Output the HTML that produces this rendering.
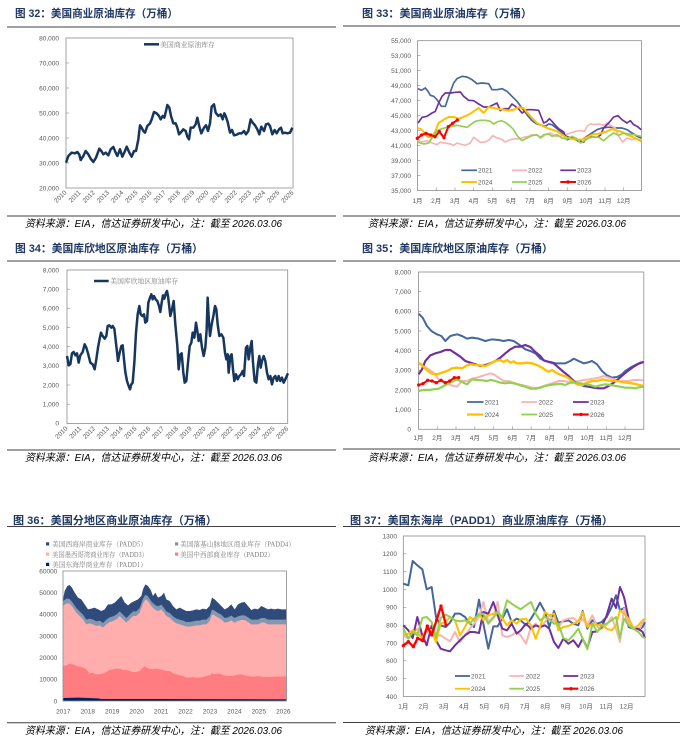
<!DOCTYPE html>
<html><head><meta charset="utf-8"><style>
html,body{margin:0;padding:0;background:#fff;}
svg{display:block;}
.t{font-family:"Liberation Sans","Noto Sans CJK SC",sans-serif;font-weight:bold;font-size:11px;fill:#1f3864;}
.ax{font-family:"Liberation Sans","Noto Sans CJK SC",sans-serif;font-size:6.5px;fill:#595959;}
.lg{font-family:"Liberation Serif","Noto Serif CJK SC",serif;font-size:6.8px;fill:#7f7f7f;}
.ly{font-family:"Liberation Sans",sans-serif;font-size:6.5px;fill:#595959;}
.ft{font-family:"Liberation Sans","Noto Sans CJK SC",sans-serif;font-style:italic;font-size:10.5px;fill:#000;}
</style></head><body>
<svg width="683" height="751" viewBox="0 0 683 751" xmlns="http://www.w3.org/2000/svg">
<rect width="683" height="751" fill="#fff"/>

<!-- ================= Chart 32 ================= -->
<text class="t" x="15" y="17" textLength="163" lengthAdjust="spacingAndGlyphs">图 32：美国商业原油库存（万桶）</text>
<line x1="7" y1="27" x2="336" y2="27" stroke="#404040" stroke-width="1"/>
<rect x="66" y="38" width="227" height="150" fill="none" stroke="#8c8c8c" stroke-width="0.8"/>
<g class="ax" text-anchor="end">
<text x="59" y="40.5">80,000</text><text x="59" y="65.5">70,000</text><text x="59" y="90.5">60,000</text>
<text x="59" y="115.5">50,000</text><text x="59" y="140.5">40,000</text><text x="59" y="165.5">30,000</text>
<text x="59" y="190.5">20,000</text>
</g>
<g stroke="#8c8c8c" stroke-width="0.6">
<line x1="66" y1="63" x2="69" y2="63"/><line x1="66" y1="88" x2="69" y2="88"/><line x1="66" y1="113" x2="69" y2="113"/><line x1="66" y1="138" x2="69" y2="138"/><line x1="66" y1="163" x2="69" y2="163"/>
</g>
<g class="ax" text-anchor="end" font-size="6.2">
<text transform="translate(67,193) rotate(-45)">2010</text>
<text transform="translate(81.2,193) rotate(-45)">2011</text>
<text transform="translate(95.4,193) rotate(-45)">2012</text>
<text transform="translate(109.6,193) rotate(-45)">2013</text>
<text transform="translate(123.8,193) rotate(-45)">2014</text>
<text transform="translate(138,193) rotate(-45)">2015</text>
<text transform="translate(152.1,193) rotate(-45)">2016</text>
<text transform="translate(166.3,193) rotate(-45)">2017</text>
<text transform="translate(180.5,193) rotate(-45)">2018</text>
<text transform="translate(194.7,193) rotate(-45)">2019</text>
<text transform="translate(208.9,193) rotate(-45)">2020</text>
<text transform="translate(223.1,193) rotate(-45)">2021</text>
<text transform="translate(237.3,193) rotate(-45)">2022</text>
<text transform="translate(251.5,193) rotate(-45)">2023</text>
<text transform="translate(265.7,193) rotate(-45)">2024</text>
<text transform="translate(279.9,193) rotate(-45)">2025</text>
<text transform="translate(294,193) rotate(-45)">2026</text>
</g>
<line x1="144" y1="44.3" x2="159" y2="44.3" stroke="#17365d" stroke-width="2.5"/>
<text class="lg" x="160" y="46.8" textLength="55" lengthAdjust="spacingAndGlyphs">美国商业原油库存</text>
<g transform="translate(60,36) scale(0.33333)">
<polyline fill="none" stroke="#17365d" stroke-width="7.5" stroke-linejoin="round" points="18,380 25,360 35,350 45,352 52,348 58,356 62,372 70,360 77,345 85,355 92,368 100,378 108,365 118,338 124,345 130,355 137,350 145,358 152,340 160,333 167,350 172,360 180,340 187,362 195,345 200,332 208,350 215,362 222,345 228,345 235,310 240,268 245,275 250,285 255,290 262,270 270,262 275,250 282,228 290,232 297,240 302,250 308,240 313,245 318,225 322,207 328,215 333,240 340,262 347,262 352,275 357,295 362,290 370,280 377,285 382,302 387,310 392,275 400,275 407,265 412,245 418,272 424,292 432,275 438,268 444,285 450,262 455,212 462,205 467,230 475,240 482,235 488,250 493,232 497,240 503,258 510,290 516,282 522,298 530,296 537,292 545,292 552,285 558,295 565,285 572,250 578,260 585,268 592,280 598,295 604,272 612,285 618,265 625,263 630,270 637,295 644,282 650,292 657,280 663,275 668,292 675,290 682,292 690,290 697,275"/>
</g>
<line x1="7" y1="216" x2="336" y2="216" stroke="#404040" stroke-width="1"/>
<text class="ft" x="25" y="227" textLength="257" lengthAdjust="spacingAndGlyphs">资料来源：EIA，信达证券研发中心，注：截至 2026.03.06</text>

<!-- ================= Chart 33 ================= -->
<text class="t" x="362" y="17" textLength="170" lengthAdjust="spacingAndGlyphs">图 33：美国商业原油库存（万桶）</text>
<line x1="343" y1="26" x2="680" y2="26" stroke="#404040" stroke-width="1"/>
<rect x="417.5" y="40.7" width="224" height="149.8" fill="none" stroke="#8c8c8c" stroke-width="0.8"/>
<g class="ax" text-anchor="end">
<text x="411" y="43">55,000</text><text x="411" y="58">53,000</text><text x="411" y="73">51,000</text>
<text x="411" y="88">49,000</text><text x="411" y="103">47,000</text><text x="411" y="118">45,000</text>
<text x="411" y="133">43,000</text><text x="411" y="148">41,000</text><text x="411" y="163">39,000</text>
<text x="411" y="178">37,000</text><text x="411" y="193">35,000</text>
</g>
<g stroke="#8c8c8c" stroke-width="0.6">
<line x1="417.5" y1="55.7" x2="420.5" y2="55.7"/><line x1="417.5" y1="70.7" x2="420.5" y2="70.7"/><line x1="417.5" y1="85.7" x2="420.5" y2="85.7"/><line x1="417.5" y1="100.7" x2="420.5" y2="100.7"/><line x1="417.5" y1="115.7" x2="420.5" y2="115.7"/><line x1="417.5" y1="130.7" x2="420.5" y2="130.7"/><line x1="417.5" y1="145.7" x2="420.5" y2="145.7"/><line x1="417.5" y1="160.7" x2="420.5" y2="160.7"/><line x1="417.5" y1="175.7" x2="420.5" y2="175.7"/>
<line x1="436.2" y1="190.5" x2="436.2" y2="187.5"/><line x1="455" y1="190.5" x2="455" y2="187.5"/><line x1="473.7" y1="190.5" x2="473.7" y2="187.5"/><line x1="492.4" y1="190.5" x2="492.4" y2="187.5"/><line x1="511.2" y1="190.5" x2="511.2" y2="187.5"/><line x1="530" y1="190.5" x2="530" y2="187.5"/><line x1="548.7" y1="190.5" x2="548.7" y2="187.5"/><line x1="567.5" y1="190.5" x2="567.5" y2="187.5"/><line x1="586.2" y1="190.5" x2="586.2" y2="187.5"/><line x1="605" y1="190.5" x2="605" y2="187.5"/><line x1="623.7" y1="190.5" x2="623.7" y2="187.5"/>
</g>
<g class="ax" text-anchor="middle">
<text x="417.5" y="203">1月</text><text x="436.2" y="203">2月</text><text x="455" y="203">3月</text><text x="473.7" y="203">4月</text>
<text x="492.4" y="203">5月</text><text x="511.2" y="203">6月</text><text x="530" y="203">7月</text><text x="548.7" y="203">8月</text>
<text x="567.5" y="203">9月</text><text x="586.2" y="203">10月</text><text x="605" y="203">11月</text><text x="623.7" y="203">12月</text>
</g>
<g transform="translate(412,38) scale(0.33333)" fill="none" stroke-width="5" stroke-linejoin="round">
<polyline stroke="#44679c" points="18,152 28,157 40,150 48,160 55,172 65,175 75,185 88,205 100,205 110,175 125,135 135,122 150,115 165,117 180,125 195,137 210,135 230,137 240,155 255,155 270,152 285,160 300,175 315,190 330,210 345,230 360,248 375,258 390,262 400,265 410,258 420,260 430,268 445,280 460,293 475,300 490,305 500,310 510,305 525,295 540,285 555,275 570,270 585,268 600,268 615,270 630,270 645,275 660,285 675,295 688,300"/>
<polyline stroke="#f8b4b4" points="18,307 30,312 45,308 60,315 75,320 85,313 100,315 115,318 125,322 135,315 145,318 160,322 175,315 185,298 195,305 205,313 220,312 232,305 242,293 255,300 265,302 280,312 295,305 310,302 320,303 335,298 350,295 360,290 375,292 390,298 400,290 415,285 430,295 445,295 460,290 475,285 490,280 505,278 518,280 525,265 535,258 548,260 560,258 575,262 585,255 595,262 610,270 620,295 632,312 645,300 660,305 675,303 688,305"/>
<polyline stroke="#7030a0" points="18,255 30,238 45,235 60,225 70,220 80,195 90,175 100,165 115,165 130,163 145,162 155,175 170,187 185,188 200,198 215,207 230,207 245,200 255,195 265,218 275,212 290,212 300,198 310,205 320,213 330,225 345,215 360,215 380,217 395,255 405,250 412,242 420,250 430,262 440,272 455,282 465,305 480,300 495,305 505,310 515,313 525,295 540,297 555,298 565,292 575,270 590,255 605,237 618,233 630,245 645,255 655,248 665,260 675,265 688,275"/>
<polyline stroke="#ffc000" stroke-width="6" points="18,270 30,275 40,290 50,297 60,295 70,280 80,255 95,245 110,237 125,237 140,242 155,237 170,230 185,220 200,210 215,225 230,207 245,210 260,213 275,215 290,218 305,215 320,208 335,210 345,223 360,240 375,255 390,263 405,270 420,275 435,280 450,290 465,300 480,303 495,305 510,305 525,298 540,290 555,288 570,285 585,280 600,273 615,278 630,282 645,290 660,296 675,303 688,310"/>
<polyline stroke="#92d050" points="18,313 35,318 50,315 60,300 75,278 90,272 105,268 120,265 135,262 150,265 165,268 178,258 190,250 205,247 220,247 235,250 245,258 255,252 268,248 280,253 295,265 305,275 315,292 330,308 345,300 360,293 375,290 385,300 395,290 410,288 420,295 435,290 450,300 465,303 480,295 495,302 505,315 515,310 530,300 545,297 560,298 575,308 590,295 605,285 620,292 635,285 650,288 665,290 688,295"/>
<polyline stroke="#ff0000" stroke-width="6" points="16,301 29,291 42,286 56,291 69,296 82,281 96,299 109,266 122,256 136,246"/>
<g fill="#ff0000" stroke="none"><circle cx="16" cy="301" r="5"/><circle cx="29" cy="291" r="5"/><circle cx="42" cy="286" r="5"/><circle cx="56" cy="291" r="5"/><circle cx="69" cy="296" r="5"/><circle cx="82" cy="281" r="5"/><circle cx="96" cy="299" r="5"/><circle cx="109" cy="266" r="5"/><circle cx="122" cy="256" r="5"/><circle cx="136" cy="246" r="5"/></g>
</g>
<g stroke-width="1.7">
<line x1="461.3" y1="170.3" x2="477" y2="170.3" stroke="#44679c"/>
<line x1="512" y1="170.3" x2="527" y2="170.3" stroke="#f8b4b4"/>
<line x1="560.3" y1="170.3" x2="576" y2="170.3" stroke="#7030a0"/>
<line x1="461.3" y1="182" x2="477" y2="182" stroke="#ffc000" stroke-width="2"/>
<line x1="512" y1="182" x2="527" y2="182" stroke="#92d050"/>
<line x1="560.3" y1="182" x2="576" y2="182" stroke="#ff0000" stroke-width="2"/>
</g>
<circle cx="568" cy="182" r="1.7" fill="#ff0000"/>
<g class="ly"><text x="478" y="172.6">2021</text><text x="528" y="172.6">2022</text><text x="577" y="172.6">2023</text>
<text x="478" y="184.3">2024</text><text x="528" y="184.3">2025</text><text x="577" y="184.3">2026</text></g>
<line x1="343" y1="216" x2="680" y2="216" stroke="#404040" stroke-width="1"/>
<text class="ft" x="368" y="227" textLength="258" lengthAdjust="spacingAndGlyphs">资料来源：EIA，信达证券研发中心，注：截至 2026.03.06</text>

<!-- ================= Chart 34 ================= -->
<text class="t" x="15" y="252" textLength="188" lengthAdjust="spacingAndGlyphs">图 34：美国库欣地区原油库存（万桶）</text>
<line x1="7" y1="261" x2="336" y2="261" stroke="#404040" stroke-width="1"/>
<rect x="67" y="270" width="220.7" height="153.4" fill="none" stroke="#8c8c8c" stroke-width="0.8"/>
<g class="ax" text-anchor="end">
<text x="59" y="272.3">8,000</text><text x="59" y="291.5">7,000</text><text x="59" y="310.6">6,000</text>
<text x="59" y="329.8">5,000</text><text x="59" y="349">4,000</text><text x="59" y="368.1">3,000</text>
<text x="59" y="387.3">2,000</text><text x="59" y="406.5">1,000</text><text x="59" y="425.7">0</text>
</g>
<g stroke="#8c8c8c" stroke-width="0.6">
<line x1="67" y1="289.2" x2="70" y2="289.2"/><line x1="67" y1="308.3" x2="70" y2="308.3"/><line x1="67" y1="327.5" x2="70" y2="327.5"/><line x1="67" y1="346.7" x2="70" y2="346.7"/><line x1="67" y1="365.8" x2="70" y2="365.8"/><line x1="67" y1="385" x2="70" y2="385"/><line x1="67" y1="404.2" x2="70" y2="404.2"/>
</g>
<g class="ax" text-anchor="end" font-size="5.8">
<text transform="translate(68,429) rotate(-45)">2010</text>
<text transform="translate(81.8,429) rotate(-45)">2011</text>
<text transform="translate(95.6,429) rotate(-45)">2012</text>
<text transform="translate(109.4,429) rotate(-45)">2013</text>
<text transform="translate(123.2,429) rotate(-45)">2014</text>
<text transform="translate(137,429) rotate(-45)">2015</text>
<text transform="translate(150.8,429) rotate(-45)">2016</text>
<text transform="translate(164.6,429) rotate(-45)">2017</text>
<text transform="translate(178.4,429) rotate(-45)">2018</text>
<text transform="translate(192.2,429) rotate(-45)">2019</text>
<text transform="translate(206,429) rotate(-45)">2020</text>
<text transform="translate(219.8,429) rotate(-45)">2021</text>
<text transform="translate(233.6,429) rotate(-45)">2022</text>
<text transform="translate(247.4,429) rotate(-45)">2023</text>
<text transform="translate(261.2,429) rotate(-45)">2024</text>
<text transform="translate(275,429) rotate(-45)">2025</text>
<text transform="translate(288.8,429) rotate(-45)">2026</text>
</g>
<line x1="94" y1="281" x2="108.7" y2="281" stroke="#17365d" stroke-width="2.5"/>
<text class="lg" x="110.3" y="283.5" textLength="68" lengthAdjust="spacingAndGlyphs">美国库欣地区原油库存</text>
<g transform="translate(62,266) scale(0.33333)">
<polyline fill="none" stroke="#17365d" stroke-width="7.5" stroke-linejoin="round" points="15,270 20,298 25,295 30,262 35,258 40,268 45,262 50,290 55,268 62,258 68,235 73,245 78,262 85,290 92,295 98,310 103,280 108,245 113,218 117,200 122,210 128,218 133,210 137,180 142,178 148,185 152,180 157,188 163,240 168,285 173,260 178,240 182,238 186,280 190,318 195,345 200,360 204,370 208,355 212,350 217,290 222,200 227,145 232,120 236,145 241,150 246,145 250,170 255,165 259,110 264,95 268,85 272,100 276,90 281,100 286,105 291,120 295,138 299,110 303,88 307,98 312,80 315,75 318,90 321,115 325,150 330,130 335,105 340,175 346,240 350,310 355,265 359,262 364,320 368,350 373,345 378,290 383,240 388,230 392,200 397,215 402,170 406,195 410,225 415,205 420,245 425,270 430,245 434,190 437,95 441,170 444,210 449,175 455,145 459,120 463,130 467,175 472,210 478,205 484,215 489,260 493,280 497,265 500,320 505,270 509,265 513,310 517,345 522,325 527,340 532,330 537,325 542,315 546,330 552,245 556,240 560,280 565,245 569,225 573,290 578,345 583,350 588,295 592,270 596,305 600,285 605,270 610,285 615,320 620,340 625,330 630,355 635,335 640,330 645,345 650,330 655,345 660,335 665,350 670,340 675,328 678,322"/>
</g>
<line x1="7" y1="450" x2="336" y2="450" stroke="#404040" stroke-width="1"/>
<text class="ft" x="25" y="461" textLength="257" lengthAdjust="spacingAndGlyphs">资料来源：EIA，信达证券研发中心，注：截至 2026.03.06</text>

<!-- ================= Chart 35 ================= -->
<text class="t" x="362" y="252" textLength="191" lengthAdjust="spacingAndGlyphs">图 35：美国库欣地区原油库存（万桶）</text>
<line x1="343" y1="261" x2="680" y2="261" stroke="#404040" stroke-width="1"/>
<rect x="418.5" y="272" width="225.3" height="157.3" fill="none" stroke="#8c8c8c" stroke-width="0.8"/>
<g class="ax" text-anchor="end">
<text x="411" y="274.3">8,000</text><text x="411" y="294">7,000</text><text x="411" y="313.6">6,000</text>
<text x="411" y="333.3">5,000</text><text x="411" y="353">4,000</text><text x="411" y="372.6">3,000</text>
<text x="411" y="392.3">2,000</text><text x="411" y="412">1,000</text><text x="411" y="431.6">0</text>
</g>
<g stroke="#8c8c8c" stroke-width="0.6">
<line x1="418.5" y1="291.7" x2="421.5" y2="291.7"/><line x1="418.5" y1="311.3" x2="421.5" y2="311.3"/><line x1="418.5" y1="331" x2="421.5" y2="331"/><line x1="418.5" y1="350.7" x2="421.5" y2="350.7"/><line x1="418.5" y1="370.3" x2="421.5" y2="370.3"/><line x1="418.5" y1="390" x2="421.5" y2="390"/><line x1="418.5" y1="409.6" x2="421.5" y2="409.6"/>
<line x1="437.3" y1="429.3" x2="437.3" y2="426.3"/><line x1="456" y1="429.3" x2="456" y2="426.3"/><line x1="474.8" y1="429.3" x2="474.8" y2="426.3"/><line x1="493.6" y1="429.3" x2="493.6" y2="426.3"/><line x1="512.4" y1="429.3" x2="512.4" y2="426.3"/><line x1="531.1" y1="429.3" x2="531.1" y2="426.3"/><line x1="549.9" y1="429.3" x2="549.9" y2="426.3"/><line x1="568.7" y1="429.3" x2="568.7" y2="426.3"/><line x1="587.4" y1="429.3" x2="587.4" y2="426.3"/><line x1="606.2" y1="429.3" x2="606.2" y2="426.3"/><line x1="625" y1="429.3" x2="625" y2="426.3"/>
</g>
<g class="ax" text-anchor="middle">
<text x="418.5" y="440">1月</text><text x="437.3" y="440">2月</text><text x="456" y="440">3月</text><text x="474.8" y="440">4月</text>
<text x="493.6" y="440">5月</text><text x="512.4" y="440">6月</text><text x="531.1" y="440">7月</text><text x="549.9" y="440">8月</text>
<text x="568.7" y="440">9月</text><text x="587.4" y="440">10月</text><text x="606.2" y="440">11月</text><text x="625" y="440">12月</text>
</g>
<g transform="translate(412,266) scale(0.33333)" fill="none" stroke-width="6" stroke-linejoin="round">
<polyline stroke="#44679c" points="20,143 32,155 45,180 58,195 75,205 88,210 100,225 115,210 135,205 150,210 165,218 180,215 200,218 220,225 240,220 260,222 275,225 290,222 305,225 320,235 340,250 355,255 370,262 385,278 400,285 415,288 430,292 445,292 460,292 475,285 485,278 500,285 515,292 525,290 540,285 555,295 570,315 585,328 600,335 615,333 630,325 640,315 655,305 670,297 685,290 695,288"/>
<polyline stroke="#f8b4b4" points="20,290 35,300 50,310 65,320 80,340 95,350 110,355 125,360 135,362 150,345 165,345 180,338 195,335 210,330 225,325 235,322 245,325 260,335 275,345 290,345 305,350 320,355 335,358 350,362 365,366 380,365 395,360 410,355 425,350 440,345 455,345 470,348 485,348 500,345 515,342 530,340 545,338 560,335 575,330 590,335 605,340 620,345 635,345 650,345 665,342 680,342 695,343"/>
<polyline stroke="#7030a0" stroke-width="6.5" points="20,325 30,310 40,285 55,268 70,262 85,258 100,252 115,252 130,262 145,272 160,285 175,290 190,295 205,300 220,297 235,292 250,285 265,275 280,262 295,250 310,242 325,242 340,237 355,243 370,258 385,270 395,283 410,288 425,292 440,305 455,318 470,330 485,345 500,355 515,360 530,362 545,365 560,367 575,367 590,360 605,350 620,338 635,325 650,313 665,302 680,293 695,288"/>
<polyline stroke="#ffc000" stroke-width="7" points="20,290 30,298 45,313 60,323 75,325 90,320 105,315 120,307 135,305 150,307 165,298 175,295 190,297 205,298 220,300 235,293 250,285 265,282 275,288 285,282 295,290 305,286 315,292 330,292 345,290 360,292 375,297 390,305 400,312 410,317 420,312 435,322 450,328 465,333 480,345 495,355 510,358 525,350 540,345 555,345 570,340 585,343 600,345 615,345 630,348 645,350 660,352 675,355 695,360"/>
<polyline stroke="#92d050" stroke-width="6.5" points="20,375 35,372 50,372 65,370 80,368 95,360 110,352 125,345 135,340 150,348 165,355 180,340 195,342 210,343 225,345 235,342 250,345 265,350 280,352 295,350 310,353 325,358 340,362 355,368 370,368 385,365 400,360 415,357 430,355 445,353 460,357 475,350 490,350 505,352 520,355 535,357 550,362 565,358 580,355 595,357 610,360 625,362 640,365 655,365 670,367 680,364 695,362"/>
<polyline stroke="#ff0000" stroke-width="6" points="20,357 33,353 47,343 60,345 73,350 87,343 100,350 113,345 127,335 140,335"/>
<g fill="#ff0000" stroke="none"><circle cx="20" cy="357" r="5"/><circle cx="33" cy="353" r="5"/><circle cx="47" cy="343" r="5"/><circle cx="60" cy="345" r="5"/><circle cx="73" cy="350" r="5"/><circle cx="87" cy="343" r="5"/><circle cx="100" cy="350" r="5"/><circle cx="113" cy="345" r="5"/><circle cx="127" cy="335" r="5"/><circle cx="140" cy="335" r="5"/></g>
</g>
<g stroke-width="1.8">
<line x1="467" y1="402" x2="483.5" y2="402" stroke="#44679c"/>
<line x1="521.3" y1="402" x2="537" y2="402" stroke="#f8b4b4"/>
<line x1="573" y1="402" x2="588.7" y2="402" stroke="#7030a0"/>
<line x1="467" y1="414.5" x2="483.5" y2="414.5" stroke="#ffc000" stroke-width="2.2"/>
<line x1="521.3" y1="414.5" x2="537" y2="414.5" stroke="#92d050"/>
<line x1="573" y1="414.5" x2="588.7" y2="414.5" stroke="#ff0000" stroke-width="2.2"/>
</g>
<circle cx="581" cy="414.5" r="1.7" fill="#ff0000"/>
<g class="ly"><text x="484.5" y="404.3">2021</text><text x="538.5" y="404.3">2022</text><text x="590" y="404.3">2023</text>
<text x="484.5" y="416.8">2024</text><text x="538.5" y="416.8">2025</text><text x="590" y="416.8">2026</text></g>
<line x1="343" y1="449" x2="680" y2="449" stroke="#404040" stroke-width="1"/>
<text class="ft" x="368" y="461" textLength="258" lengthAdjust="spacingAndGlyphs">资料来源：EIA，信达证券研发中心，注：截至 2026.03.06</text>

<!-- ================= Chart 36 ================= -->
<text class="t" x="13" y="524" textLength="204" lengthAdjust="spacingAndGlyphs">图 36：美国分地区商业原油库存（万桶）</text>
<line x1="7" y1="526.5" x2="336" y2="526.5" stroke="#404040" stroke-width="1"/>
<rect x="46" y="542.3" width="3.2" height="3.2" fill="#2f4b7c"/>
<rect x="175" y="542.3" width="3.2" height="3.2" fill="#8497b0"/>
<rect x="46" y="552.5" width="3.2" height="3.2" fill="#ffadad"/>
<rect x="175" y="552.5" width="3.2" height="3.2" fill="#ff7c80"/>
<rect x="46" y="562.8" width="3.2" height="3.2" fill="#002060"/>
<g class="lg" font-size="7">
<text x="52" y="546.5" textLength="95" lengthAdjust="spacingAndGlyphs">美国西海岸商业库存（PADD5）</text>
<text x="180" y="546.5" textLength="115" lengthAdjust="spacingAndGlyphs">美国落基山脉地区商业库存（PADD4）</text>
<text x="52" y="556.8" textLength="96" lengthAdjust="spacingAndGlyphs">美国墨西哥湾商业库存（PADD3）</text>
<text x="180" y="556.8" textLength="94" lengthAdjust="spacingAndGlyphs">美国中西部商业库存（PADD2）</text>
<text x="52" y="567" textLength="95" lengthAdjust="spacingAndGlyphs">美国东海岸商业库存（PADD1）</text>
</g>
<g transform="translate(58,566) scale(0.33333)" stroke="none">
<polygon fill="#2f4b7c" points="15,100 20,75 28,60 35,57 42,65 50,80 60,95 70,100 80,115 90,130 100,128 110,125 120,130 130,135 140,130 150,115 160,115 170,110 180,100 190,90 200,110 210,118 220,110 230,105 240,100 250,90 255,70 262,55 270,60 278,72 285,90 292,80 300,95 310,90 318,80 325,100 335,105 345,120 355,130 365,125 375,130 385,135 395,135 405,133 415,130 425,132 435,128 445,130 455,120 462,95 470,100 480,110 490,120 500,130 510,125 520,115 530,130 540,115 550,110 560,108 570,120 580,132 590,128 600,130 610,120 620,125 630,130 640,128 650,130 660,128 670,130 685,130 685,405 15,405"/>
<polygon fill="#8497b0" points="15,106 25,98 35,99 45,111 55,126 65,136 75,146 85,161 95,158 105,161 115,166 125,164 135,171 145,161 155,154 165,151 175,146 185,136 195,146 205,156 215,146 225,136 235,136 245,126 255,98 262,86 270,91 280,106 290,116 300,121 310,116 318,126 325,136 335,141 345,151 355,158 365,161 375,164 385,168 395,168 405,166 415,164 425,164 435,161 445,161 455,151 462,131 470,134 480,141 490,146 500,156 510,154 520,149 530,156 540,151 550,148 560,148 570,154 580,161 590,161 600,161 610,156 620,156 630,161 685,161 685,405 15,405"/>
<polygon fill="#ffadad" points="15,120 25,112 35,113 45,125 55,140 65,150 75,160 85,175 95,172 105,175 115,180 125,178 135,185 145,175 155,168 165,165 175,160 185,150 195,160 205,170 215,160 225,150 235,150 245,140 255,112 262,100 270,105 280,120 290,130 300,135 310,130 318,140 325,150 335,155 345,165 355,172 365,175 375,178 385,182 395,182 405,180 415,178 425,178 435,175 445,175 455,165 462,145 470,148 480,155 490,160 500,170 510,168 520,163 530,170 540,165 550,162 560,162 570,168 580,175 590,175 600,175 610,170 620,170 630,175 685,175 685,405 15,405"/>
<polygon fill="#ff7c80" points="15,300 25,298 35,293 45,295 55,300 65,302 75,305 85,310 95,322 105,320 115,325 125,325 135,322 145,318 155,312 165,310 175,308 185,308 195,312 205,312 215,315 225,318 235,318 245,315 255,305 260,300 265,305 275,308 285,310 295,308 305,310 315,312 325,315 335,315 345,322 355,325 365,328 375,330 385,335 395,335 405,333 415,335 425,335 435,333 445,330 455,328 462,322 470,325 480,322 490,325 500,328 510,330 520,330 530,328 540,326 550,325 560,328 570,330 580,332 590,332 600,330 610,332 620,333 685,331 685,405 15,405"/>
<polygon fill="#002060" points="15,396 60,395 120,397 130,399 300,399 685,400 685,405 15,405"/>
</g>
<rect x="63" y="571" width="223.5" height="130" fill="none" stroke="#8c8c8c" stroke-width="0.8"/>
<g class="ax" text-anchor="end">
<text x="57.3" y="573.3">60000</text><text x="57.3" y="595">50000</text><text x="57.3" y="616.7">40000</text>
<text x="57.3" y="638.3">30000</text><text x="57.3" y="660">20000</text><text x="57.3" y="681.7">10000</text>
<text x="57.3" y="703.3">0</text>
</g>
<g class="ax" text-anchor="middle">
<text x="63.3" y="713.3">2017</text><text x="87.8" y="713.3">2018</text><text x="112.2" y="713.3">2019</text>
<text x="136.6" y="713.3">2020</text><text x="161.1" y="713.3">2021</text><text x="185.5" y="713.3">2022</text>
<text x="210" y="713.3">2023</text><text x="234.4" y="713.3">2024</text><text x="258.8" y="713.3">2025</text>
<text x="283.3" y="713.3">2026</text>
</g>
<line x1="7" y1="722.7" x2="336" y2="722.7" stroke="#404040" stroke-width="1"/>
<text class="ft" x="25" y="734" textLength="257" lengthAdjust="spacingAndGlyphs">资料来源：EIA，信达证券研发中心，注：截至 2026.03.06</text>

<!-- ================= Chart 37 ================= -->
<text class="t" x="350" y="524" textLength="263" lengthAdjust="spacingAndGlyphs">图 37：美国东海岸（PADD1）商业原油库存（万桶）</text>
<line x1="343" y1="526.5" x2="680" y2="526.5" stroke="#404040" stroke-width="1"/>
<rect x="403.3" y="536" width="241.7" height="160.5" fill="none" stroke="#8c8c8c" stroke-width="0.8"/>
<g class="ax" text-anchor="end">
<text x="397" y="538.3">1300</text><text x="397" y="556.1">1200</text><text x="397" y="574">1100</text>
<text x="397" y="591.8">1000</text><text x="397" y="609.6">900</text><text x="397" y="627.5">800</text>
<text x="397" y="645.3">700</text><text x="397" y="663.1">600</text><text x="397" y="680.9">500</text>
<text x="397" y="698.8">400</text>
</g>
<g stroke="#8c8c8c" stroke-width="0.6">
<line x1="403.3" y1="553.8" x2="406.3" y2="553.8"/><line x1="403.3" y1="571.7" x2="406.3" y2="571.7"/><line x1="403.3" y1="589.5" x2="406.3" y2="589.5"/><line x1="403.3" y1="607.3" x2="406.3" y2="607.3"/><line x1="403.3" y1="625.2" x2="406.3" y2="625.2"/><line x1="403.3" y1="643" x2="406.3" y2="643"/><line x1="403.3" y1="660.8" x2="406.3" y2="660.8"/><line x1="403.3" y1="678.7" x2="406.3" y2="678.7"/>
</g>
<g class="ax" text-anchor="middle">
<text x="403.3" y="708.3">1月</text><text x="423.6" y="708.3">2月</text><text x="443.9" y="708.3">3月</text><text x="464.2" y="708.3">4月</text>
<text x="484.5" y="708.3">5月</text><text x="504.8" y="708.3">6月</text><text x="525.1" y="708.3">7月</text><text x="545.4" y="708.3">8月</text>
<text x="565.7" y="708.3">9月</text><text x="586" y="708.3">10月</text><text x="606.3" y="708.3">11月</text><text x="626.6" y="708.3">12月</text>
</g>
<g transform="translate(400,532) scale(0.33333)" fill="none" stroke-width="6" stroke-linejoin="round">
<polyline stroke="#44679c" points="10,155 25,160 38,87 52,100 67,112 80,172 95,165 108,255 122,280 137,285 150,272 165,245 180,245 195,255 210,275 222,285 237,203 250,275 265,350 280,283 293,283 307,260 321,232 335,270 350,260 362,265 378,280 393,260 407,237 420,212 435,240 448,285 462,237 475,272 490,268 505,265 520,275 535,280 548,237 562,290 577,265 592,275 605,270 620,255 635,225 648,190 660,235 672,228 686,285 700,290 715,295 728,285 735,270"/>
<polyline stroke="#f8b4b4" points="10,310 25,320 38,305 52,290 67,315 80,300 95,290 108,310 122,310 137,320 150,328 165,300 180,330 195,310 210,290 222,275 237,255 250,210 265,270 280,255 293,210 307,310 321,315 335,310 350,300 362,310 378,335 393,285 407,275 420,290 435,270 448,250 462,265 475,285 490,265 505,260 520,258 535,270 548,262 562,280 577,250 592,285 605,290 620,278 635,255 648,290 660,330 672,230 686,278 700,285 715,300 728,270 735,265"/>
<polyline stroke="#7030a0" points="10,280 25,295 38,318 52,255 67,310 80,340 95,280 108,325 122,350 137,355 150,358 165,340 180,325 195,310 210,300 222,300 237,303 250,240 265,245 280,210 293,250 307,290 321,295 335,275 350,305 362,295 378,275 393,290 407,280 420,285 435,280 448,290 462,330 475,348 490,320 505,335 520,325 535,345 548,320 562,348 577,300 592,298 605,285 620,250 635,200 648,228 660,165 672,195 686,260 700,290 715,290 728,300 735,318"/>
<polyline stroke="#ffc000" points="10,310 25,305 38,295 52,305 67,318 80,290 95,295 108,330 122,275 137,270 150,255 165,265 180,310 195,285 210,255 222,265 237,245 250,265 265,250 280,245 293,240 307,260 321,280 335,265 350,275 362,262 378,260 393,280 407,320 420,285 435,240 448,250 462,245 475,295 490,285 505,282 520,275 535,268 548,240 562,285 577,275 592,280 605,278 620,290 635,295 648,280 660,235 672,245 686,260 700,290 715,280 728,265 735,260"/>
<polyline stroke="#92d050" points="10,290 25,320 38,300 52,310 67,258 80,255 95,270 108,315 122,258 137,248 150,255 165,265 180,268 195,265 210,275 222,260 237,248 250,245 265,275 280,258 293,240 307,255 321,205 335,215 350,225 362,232 378,220 393,210 407,245 420,265 435,255 448,262 462,275 475,275 490,318 505,325 520,310 535,290 548,320 562,352 577,275 592,300 605,280 620,275 635,265 648,255 660,318 672,260 686,280 700,290 715,300 728,315 735,318"/>
<polyline stroke="#ff0000" stroke-width="7" points="10,341 25,329 40,344 53,319 68,326 82,282 95,309 110,264 123,222 138,279"/>
<g fill="#ff0000" stroke="none"><circle cx="10" cy="341" r="5"/><circle cx="25" cy="329" r="5"/><circle cx="40" cy="344" r="5"/><circle cx="53" cy="319" r="5"/><circle cx="68" cy="326" r="5"/><circle cx="82" cy="282" r="5"/><circle cx="95" cy="309" r="5"/><circle cx="110" cy="264" r="5"/><circle cx="123" cy="222" r="5"/><circle cx="138" cy="279" r="5"/></g>
</g>
<g stroke-width="1.8">
<line x1="455" y1="676" x2="470" y2="676" stroke="#44679c"/>
<line x1="509.3" y1="676" x2="524" y2="676" stroke="#f8b4b4"/>
<line x1="563.3" y1="676" x2="578.3" y2="676" stroke="#7030a0"/>
<line x1="455" y1="688.7" x2="470" y2="688.7" stroke="#ffc000"/>
<line x1="509.3" y1="688.7" x2="524" y2="688.7" stroke="#92d050"/>
<line x1="563.3" y1="688.7" x2="578.3" y2="688.7" stroke="#ff0000" stroke-width="2.2"/>
</g>
<circle cx="571" cy="688.7" r="1.7" fill="#ff0000"/>
<g class="ly"><text x="471" y="678.3">2021</text><text x="525.7" y="678.3">2022</text><text x="580" y="678.3">2023</text>
<text x="471" y="691">2024</text><text x="525.7" y="691">2025</text><text x="580" y="691">2026</text></g>
<line x1="343" y1="722.5" x2="680" y2="722.5" stroke="#404040" stroke-width="1"/>
<text class="ft" x="365" y="734" textLength="258" lengthAdjust="spacingAndGlyphs">资料来源：EIA，信达证券研发中心，注：截至 2026.03.06</text>
</svg>
</body></html>
